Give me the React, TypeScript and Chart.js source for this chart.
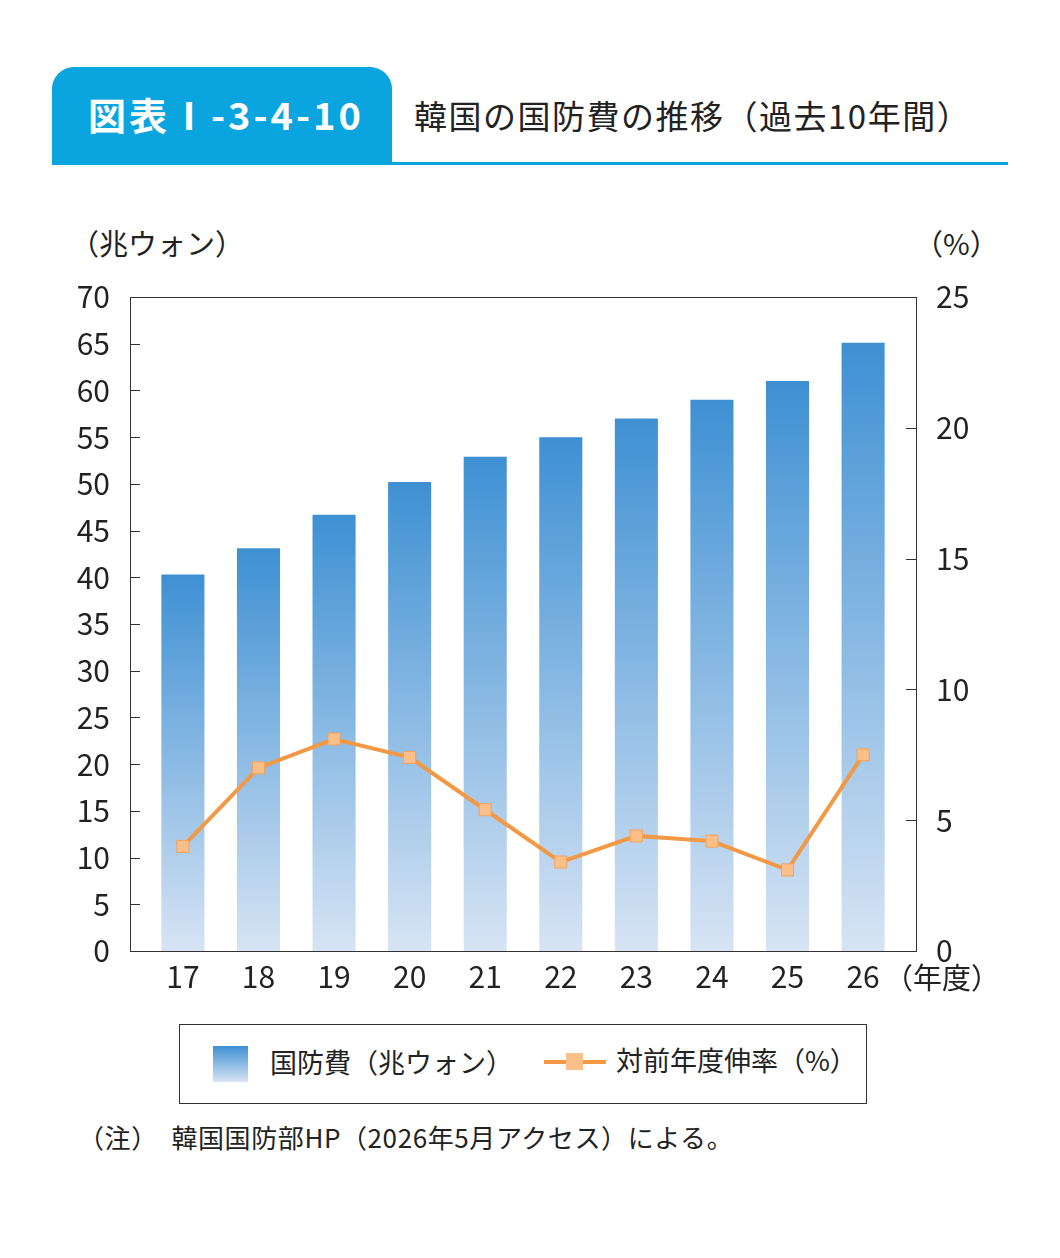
import React, { useEffect, useRef } from "react";
import { Chart, registerables } from "chart.js";
Chart.register(...registerables);

const years = ["17", "18", "19", "20", "21", "22", "23", "24", "25", "26"];
const budget = [40.3, 43.1, 46.7, 50.2, 52.9, 55.0, 57.0, 59.0, 61.0, 65.1];
const growth = [4.0, 7.0, 8.1, 7.4, 5.4, 3.4, 4.4, 4.2, 3.1, 7.5];
const leftTicks = [0, 5, 10, 15, 20, 25, 30, 35, 40, 45, 50, 55, 60, 65, 70];
const rightTicks = [0, 5, 10, 15, 20, 25];

const FONT = "'Noto Sans CJK JP', 'Noto Sans', sans-serif";

const frame = {
  id: "frame",
  afterDatasetsDraw(chart: any) {
    const { ctx, chartArea: a, scales } = chart;
    ctx.save();
    ctx.strokeStyle = "#333";
    ctx.lineWidth = 1;
    ctx.strokeRect(a.left + 0.5, a.top + 0.5, a.right - a.left, a.bottom - a.top);
    ctx.beginPath();
    for (const v of leftTicks) {
      const y = Math.round(scales.y.getPixelForValue(v)) + 0.5;
      ctx.moveTo(a.left, y); ctx.lineTo(a.left + 10, y);
    }
    for (const v of rightTicks) {
      const y = Math.round(scales.y1.getPixelForValue(v)) + 0.5;
      ctx.moveTo(a.right - 10, y); ctx.lineTo(a.right, y);
    }
    ctx.stroke();
    ctx.restore();
  },
};

export default function App() {
  const ref = useRef<HTMLCanvasElement>(null);
  useEffect(() => {
    const chart = new Chart(ref.current!, {
      type: "bar",
      data: {
        labels: years,
        datasets: [
          {
            type: "line",
            label: "対前年度伸率（%）",
            data: growth,
            yAxisID: "y1",
            borderColor: "#f39845",
            borderWidth: 4,
            tension: 0,
            pointStyle: "rect",
            pointRadius: 8.5,
            pointBackgroundColor: "#fbc08a",
            pointBorderColor: "#f5a05a",
            pointBorderWidth: 1,
            order: 0,
          } as any,
          {
            type: "bar",
            label: "国防費（兆ウォン）",
            data: budget,
            yAxisID: "y",
            barPercentage: 0.57,
            categoryPercentage: 1,
            order: 1,
            backgroundColor: (c: any) => {
              const chart = c.chart;
              const s = chart.scales?.y;
              if (!s || c.raw == null) return "#6fa6dc";
              const top = s.getPixelForValue(c.raw);
              const bot = s.getPixelForValue(0);
              if (!isFinite(top) || !isFinite(bot) || top === bot) return "#6fa6dc";
              const g = chart.ctx.createLinearGradient(0, top, 0, bot);
              g.addColorStop(0, "#3e90d3");
              g.addColorStop(1, "#d7e4f4");
              return g;
            },
          },
        ],
      },
      options: {
        animation: false,
        responsive: false,
        layout: { padding: { left: 60, right: 60, top: 297, bottom: 9 } },
        plugins: { legend: { display: false }, tooltip: { enabled: false } },
        scales: {
          x: {
            grid: { display: false },
            border: { display: false },
            ticks: { color: "#222", font: { family: FONT, size: 30 }, padding: 0 },
            afterFit: (s: any) => {
              s.height = 50;
              s._startValue -= 0.2;
              s._valueRange += 0.4;
            },
          },
          y: {
            position: "left",
            min: 0, max: 70,
            grid: { display: false },
            border: { display: false },
            ticks: { stepSize: 5, color: "#222", padding: 12, font: { family: FONT, size: 30 } },
            afterFit: (s: any) => { s.width = 70; },
          },
          y1: {
            position: "right",
            min: 0, max: 25,
            grid: { display: false },
            border: { display: false },
            ticks: { stepSize: 5, color: "#222", padding: 12, font: { family: FONT, size: 30 } },
            afterFit: (s: any) => { s.width = 84; },
          },
        },
      },
      plugins: [frame],
    } as any);
    return () => chart.destroy();
  }, []);

  const txt: React.CSSProperties = { position: "absolute", fontFamily: FONT, color: "#222", whiteSpace: "nowrap" };
  return (
    <div style={{ position: "relative", width: 1060, height: 1258, margin: -8, background: "#fff", overflow: "hidden" }}>
      <div style={{ position: "absolute", left: 52, top: 67, width: 340, height: 98, background: "#0aa5df", borderTopLeftRadius: 22, borderTopRightRadius: 22 }} />
      <div style={{ position: "absolute", left: 52, top: 162, width: 956, height: 3, background: "#0aa5df" }} />
      <div style={{ ...txt, left: 88, top: 89, color: "#fff", fontSize: 38, fontWeight: 700, lineHeight: "50px", letterSpacing: 3 }}>図表Ⅰ-3-4-10</div>
      <div style={{ ...txt, left: 414, top: 92, fontSize: 33, lineHeight: "46px", letterSpacing: 1.5 }}>韓国の国防費の推移（過去10年間）</div>
      <div style={{ ...txt, left: 70, top: 222, fontSize: 29, lineHeight: "40px" }}>（兆ウォン）</div>
      <div style={{ ...txt, left: 914, top: 222, fontSize: 29, lineHeight: "40px" }}>（%）</div>
      <canvas ref={ref} width={1060} height={1010} style={{ position: "absolute", left: 0, top: 0 }} />
      <div style={{ ...txt, left: 884, top: 956, fontSize: 29, lineHeight: "40px" }}>（年度）</div>
      <div style={{ position: "absolute", left: 179, top: 1024, width: 688, height: 80, border: "1px solid #333", boxSizing: "border-box" }} />
      <div style={{ position: "absolute", left: 213, top: 1046, width: 35, height: 36, background: "linear-gradient(#3e90d3, #d7e4f4)" }} />
      <div style={{ ...txt, left: 270, top: 1042, fontSize: 27, lineHeight: "40px" }}>国防費（兆ウォン）</div>
      <div style={{ position: "absolute", left: 544, top: 1060, width: 62, height: 4, background: "#f39845" }} />
      <div style={{ position: "absolute", left: 566, top: 1053, width: 17, height: 17, background: "#fbc08a" }} />
      <div style={{ ...txt, left: 616, top: 1040, fontSize: 27, lineHeight: "40px" }}>対前年度伸率（%）</div>
      <div style={{ ...txt, left: 78, top: 1117, fontSize: 26, lineHeight: "40px", letterSpacing: 0.6 }}>（注）　韓国国防部HP（2026年5月アクセス）による。</div>
    </div>
  );
}
